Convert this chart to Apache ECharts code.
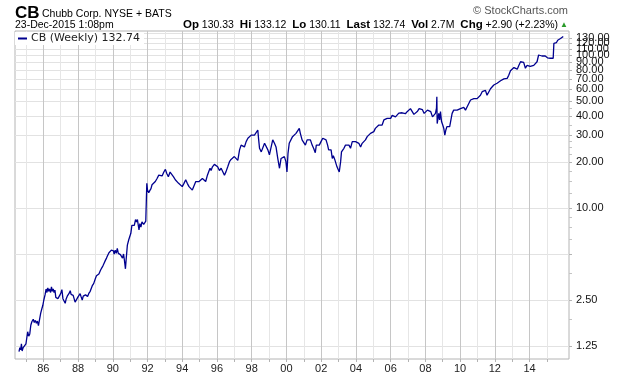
<!DOCTYPE html>
<html>
<head>
<meta charset="utf-8">
<script src="https://cdn.jsdelivr.net/npm/echarts@6/dist/echarts.min.js"></script>
<style>
  html, body { margin: 0; padding: 0; background: #fff; }
  #chart { width: 620px; height: 376px; }
</style>
</head>
<body>
<div id="chart"></div>
<script>
// CB weekly close (decimal year, price)
var dates = [
  1984.60,1984.65,1984.70,1984.74,1984.78,1984.84,1984.90,1985.00,1985.06,1985.10,
  1985.16,1985.22,1985.28,1985.34,1985.42,1985.48,1985.54,1985.60,1985.66,1985.72,
  1985.78,1985.85,1985.92,1985.97,1986.03,1986.10,1986.16,1986.21,1986.26,1986.31,
  1986.36,1986.42,1986.47,1986.52,1986.57,1986.62,1986.67,1986.72,1986.78,1986.84,
  1986.90,1986.96,1987.02,1987.07,1987.13,1987.19,1987.26,1987.32,1987.38,1987.44,
  1987.50,1987.55,1987.60,1987.66,1987.72,1987.78,1987.83,1987.89,1987.94,1988.00,
  1988.05,1988.12,1988.18,1988.24,1988.30,1988.36,1988.43,1988.49,1988.55,1988.62,
  1988.70,1988.76,1988.82,1988.90,1989.00,1989.06,1989.12,1989.20,1989.30,1989.38,
  1989.44,1989.50,1989.58,1989.64,1989.69,1989.78,1989.86,1989.92,1989.98,1990.04,
  1990.08,1990.14,1990.20,1990.26,1990.32,1990.38,1990.44,1990.50,1990.56,1990.62,
  1990.67,1990.73,1990.77,1990.84,1990.92,1991.04,1991.10,1991.17,1991.24,1991.31,
  1991.37,1991.42,1991.47,1991.51,1991.56,1991.62,1991.68,1991.78,1991.90,1991.96,
  1992.00,1992.07,1992.13,1992.20,1992.26,1992.36,1992.45,1992.55,1992.65,1992.75,
  1992.84,1992.94,1993.03,1993.11,1993.20,1993.30,1993.40,1993.50,1993.60,1993.70,
  1993.79,1993.88,1994.00,1994.10,1994.20,1994.29,1994.39,1994.48,1994.58,1994.68,
  1994.78,1994.87,1994.97,1995.06,1995.16,1995.26,1995.35,1995.45,1995.55,1995.60,
  1995.66,1995.74,1995.85,1995.95,1996.04,1996.14,1996.24,1996.33,1996.43,1996.52,
  1996.62,1996.72,1996.81,1996.91,1997.00,1997.10,1997.20,1997.30,1997.39,1997.49,
  1997.58,1997.68,1997.78,1997.87,1997.97,1998.06,1998.16,1998.26,1998.35,1998.40,
  1998.45,1998.55,1998.64,1998.74,1998.83,1998.93,1999.02,1999.12,1999.21,1999.31,
  1999.40,1999.50,1999.60,1999.69,1999.78,1999.88,1999.97,2000.03,2000.09,2000.16,
  2000.26,2000.35,2000.45,2000.55,2000.64,2000.74,2000.80,2000.90,2001.00,2001.09,
  2001.19,2001.28,2001.38,2001.48,2001.57,2001.66,2001.72,2001.79,2001.89,2001.99,
  2002.09,2002.18,2002.28,2002.37,2002.43,2002.50,2002.57,2002.64,2002.70,2002.78,
  2002.85,2002.91,2002.98,2003.04,2003.08,2003.12,2003.17,2003.24,2003.31,2003.40,
  2003.50,2003.60,2003.69,2003.79,2003.88,2003.98,2004.08,2004.17,2004.27,2004.36,
  2004.46,2004.55,2004.65,2004.74,2004.84,2004.94,2005.03,2005.12,2005.22,2005.32,
  2005.42,2005.51,2005.61,2005.70,2005.80,2005.90,2006.00,2006.09,2006.19,2006.28,
  2006.38,2006.47,2006.57,2006.66,2006.76,2006.85,2006.95,2007.04,2007.14,2007.24,
  2007.34,2007.45,2007.55,2007.64,2007.74,2007.83,2007.93,2008.02,2008.12,2008.21,
  2008.31,2008.41,2008.50,2008.58,2008.64,2008.66,2008.68,2008.77,2008.82,2008.87,
  2008.93,2009.00,2009.06,2009.12,2009.18,2009.24,2009.32,2009.40,2009.47,2009.54,
  2009.63,2009.73,2009.83,2009.92,2010.02,2010.12,2010.21,2010.31,2010.40,2010.50,
  2010.60,2010.69,2010.79,2010.88,2010.98,2011.08,2011.17,2011.27,2011.36,2011.46,
  2011.55,2011.65,2011.75,2011.85,2011.94,2012.04,2012.13,2012.23,2012.33,2012.42,
  2012.52,2012.62,2012.71,2012.80,2012.90,2013.00,2013.10,2013.20,2013.29,2013.38,
  2013.48,2013.57,2013.66,2013.76,2013.85,2013.95,2014.04,2014.14,2014.24,2014.33,
  2014.43,2014.52,2014.62,2014.71,2014.80,2014.90,2014.97,2015.03,2015.12,2015.20,
  2015.28,2015.36,2015.40,2015.48,2015.55,2015.62,2015.70,2015.78,2015.86,2015.94
];
var prices = [
  1.15,1.22,1.18,1.29,1.16,1.22,1.20,1.29,1.30,1.55,
  1.45,1.50,1.71,1.80,1.87,1.78,1.84,1.76,1.82,1.70,
  1.74,2.05,2.20,2.30,2.50,2.70,2.95,2.80,3.00,2.85,
  2.95,2.80,3.05,2.85,2.95,2.80,2.90,2.60,2.65,2.55,
  2.50,2.70,2.80,2.92,2.55,2.60,2.38,2.55,2.65,2.62,
  2.78,2.88,2.72,2.80,2.68,2.74,2.42,2.48,2.40,2.62,
  2.70,2.75,2.62,2.50,2.65,2.62,2.70,2.75,2.64,2.76,
  2.85,2.80,3.10,3.20,3.46,3.60,3.55,3.70,3.93,4.00,
  4.20,4.35,4.56,4.70,4.85,5.10,5.23,5.30,5.45,5.25,
  5.00,5.30,5.05,5.45,5.05,5.20,4.95,5.10,4.70,5.00,
  4.55,4.00,4.60,5.72,6.20,6.83,7.70,7.90,7.70,8.40,
  8.10,8.40,7.70,7.20,7.90,7.50,8.10,7.80,8.20,14.50,
  13.10,12.60,13.00,13.40,14.20,14.50,14.90,15.60,16.40,16.80,
  16.20,17.20,17.90,16.80,16.00,17.20,16.80,16.00,15.30,14.90,
  14.50,14.40,13.80,14.50,15.30,14.50,13.80,13.40,13.10,13.40,
  14.90,15.30,14.90,15.30,15.60,15.20,14.90,16.40,17.60,18.20,
  17.60,18.60,19.30,19.40,18.60,17.60,18.20,18.60,16.40,17.30,
  18.60,20.10,20.80,20.40,21.70,22.30,20.50,24.00,25.80,26.50,
  25.10,27.20,28.60,29.30,30.00,30.80,30.00,29.30,32.40,28.00,
  24.60,23.30,23.80,26.50,27.20,24.00,22.30,22.70,27.90,26.50,
  25.10,21.10,18.20,21.10,20.50,21.70,20.10,17.20,22.80,26.50,
  27.20,29.30,30.00,30.80,31.60,33.20,30.80,27.90,27.20,25.80,
  27.90,28.60,27.90,25.80,24.50,23.00,25.80,25.10,25.80,27.20,
  28.60,29.30,27.90,25.80,24.00,23.30,24.00,21.10,22.00,20.80,
  21.10,18.60,18.20,17.20,18.60,20.10,23.30,24.00,24.60,25.80,
  25.10,25.80,24.60,27.20,27.90,27.20,27.20,26.50,25.10,26.50,
  25.80,27.90,29.30,30.00,30.80,31.60,31.60,33.20,34.10,34.90,
  35.70,34.90,37.70,38.60,38.60,39.50,38.60,40.40,41.40,39.50,
  40.40,41.80,42.70,42.00,42.70,41.40,42.70,43.70,44.70,43.70,
  41.00,41.60,43.00,44.70,43.70,44.00,41.60,42.70,43.70,44.70,
  42.70,39.50,38.60,41.60,45.00,53.50,35.70,41.60,37.70,42.70,
  36.80,34.90,33.20,30.00,32.40,34.10,33.20,34.10,33.20,41.60,
  43.70,42.70,43.70,42.70,44.70,43.70,45.50,43.70,45.80,47.20,
  50.90,52.00,52.00,53.50,52.00,53.50,54.70,57.70,56.00,58.90,
  54.70,53.50,60.30,60.00,63.80,64.50,65.50,66.50,68.00,68.00,
  70.00,70.50,70.50,74.00,79.00,80.00,83.00,84.00,81.00,85.70,
  90.60,91.50,89.80,82.10,85.70,86.50,84.50,83.90,85.70,86.50,
  90.60,100.30,99.50,98.80,100.00,98.80,97.50,96.10,97.00,95.50,
  96.50,95.50,119.60,122.00,121.00,125.20,124.00,128.50,130.40,132.70
];
// axis ticks
var yLabelValues = [1.25, 2.5, 10, 20, 30, 40, 50, 60, 70, 80, 90, 100, 110, 120, 130, 140];
var yGridValues = [1.25, 2.5, 5, 10, 20, 30, 40, 50, 60, 70, 80, 90, 100, 110, 120, 130, 140];
var yMinorTicks = [1.875, 3.75, 6.25, 7.5, 8.75, 12.5, 15, 17.5, 22.5, 25, 27.5, 35, 45];
var xLabelYears = [1986, 1988, 1990, 1992, 1994, 1996, 1998, 2000, 2002, 2004, 2006, 2008, 2010, 2012, 2014];
var xTickYears = [];
for (var y = 1985; y <= 2015; y++) xTickYears.push(y);

(function() {
  var myChart = echarts.init(document.getElementById('chart'));
  var font = '"Liberation Sans", Arial, sans-serif';
  var points = dates.map(function(d, i) { return [d, prices[i]]; });
  var option = {
    animation: false,
    textStyle: { fontFamily: font },
    grid: {
      left: 15, right: 51, top: 31, bottom: 17,
      show: true, borderColor: '#b4b4b4', borderWidth: 1,
      outerBoundsMode: 'none'
    },
    legend: {
      left: 15, top: 32,
      padding: [1, 4, 1, 3],
      backgroundColor: '#fff',
      icon: 'rect', itemWidth: 9, itemHeight: 2, itemGap: 4,
      textStyle: { fontFamily: '"DejaVu Sans", Verdana, sans-serif', fontSize: 11, color: '#222', padding: [0, 0, 0, -1] }
    },
    xAxis: {
      type: 'value', min: 1984.37, max: 2016.27,
      axisLine: { show: false },
      axisTick: { show: true, length: 3, lineStyle: { color: '#b4b4b4' }, customValues: xTickYears },
      axisLabel: {
        customValues: xLabelYears, color: '#222', fontSize: 11, margin: 4,
        formatter: function(v) { return String(Math.round(v)).slice(2); }
      },
      splitLine: { show: true, lineStyle: { color: ['#e6e6e6', '#c6c6c6'], width: 1 } }
    },
    yAxis: [{
      type: 'log', position: 'right', min: 1.0276, max: 144.0,
      axisLine: { show: false },
      axisTick: { show: true, length: 3, lineStyle: { color: '#b4b4b4' }, customValues: yGridValues },
      axisLabel: {
        customValues: yLabelValues, color: '#111', fontSize: 11, margin: 7,
        formatter: function(v) { return Number(v).toFixed(2); }
      },
      splitLine: { show: true, lineStyle: { color: '#e2e2e2', width: 1 } }
    }, {
      type: 'log', position: 'right', min: 1.0276, max: 144.0,
      axisLine: { show: false },
      axisTick: { show: true, length: 3, lineStyle: { color: '#c4c4c4' }, customValues: yMinorTicks },
      axisLabel: { show: false },
      splitLine: { show: false }
    }],
    series: [{
      name: 'CB (Weekly) 132.74',
      type: 'line',
      yAxisIndex: 0,
      data: points,
      showSymbol: false,
      symbol: 'none',
      color: '#00008f',
      lineStyle: { color: '#00008f', width: 1.3 }
    }],
    graphic: [
      { type: 'text', left: 15, top: 5, style: { text: 'CB', font: 'bold 17px "Liberation Sans Narrow", ' + font, fill: '#000' } },
      { type: 'text', left: 42, top: 9, style: { text: 'Chubb Corp. NYSE + BATS', font: '10.5px ' + font, fill: '#000' } },
      { type: 'text', left: 15, top: 20, style: { text: '23-Dec-2015 1:08pm', font: '10.5px ' + font, fill: '#000' } },
      { type: 'text', right: 52, top: 5, style: { text: '\u00a9 StockCharts.com', font: '11px ' + font, fill: '#555' } },
      {
        type: 'text', right: 62, top: 19,
        style: {
          text: '{b|Op} 130.33 {b|Hi} 133.12 {b|Lo} 130.11 {b|Last} 132.74 {b|Vol} 2.7M {b|Chg} +2.90 (+2.23%)',
          font: '10.5px ' + font, fill: '#000',
          rich: { b: { fontWeight: 'bold', fontSize: 11.5, fontFamily: font, padding: [0, 0, 0, 3] } }
        }
      },
      { type: 'text', right: 52, top: 21, style: { text: '\u25b2', font: '8px ' + font, fill: '#2a9a2a' } }
    ]
  };
  myChart.setOption(option);
  window.addEventListener('resize', function() {
    myChart.resize();
  });
})();
</script>
</body>
</html>
